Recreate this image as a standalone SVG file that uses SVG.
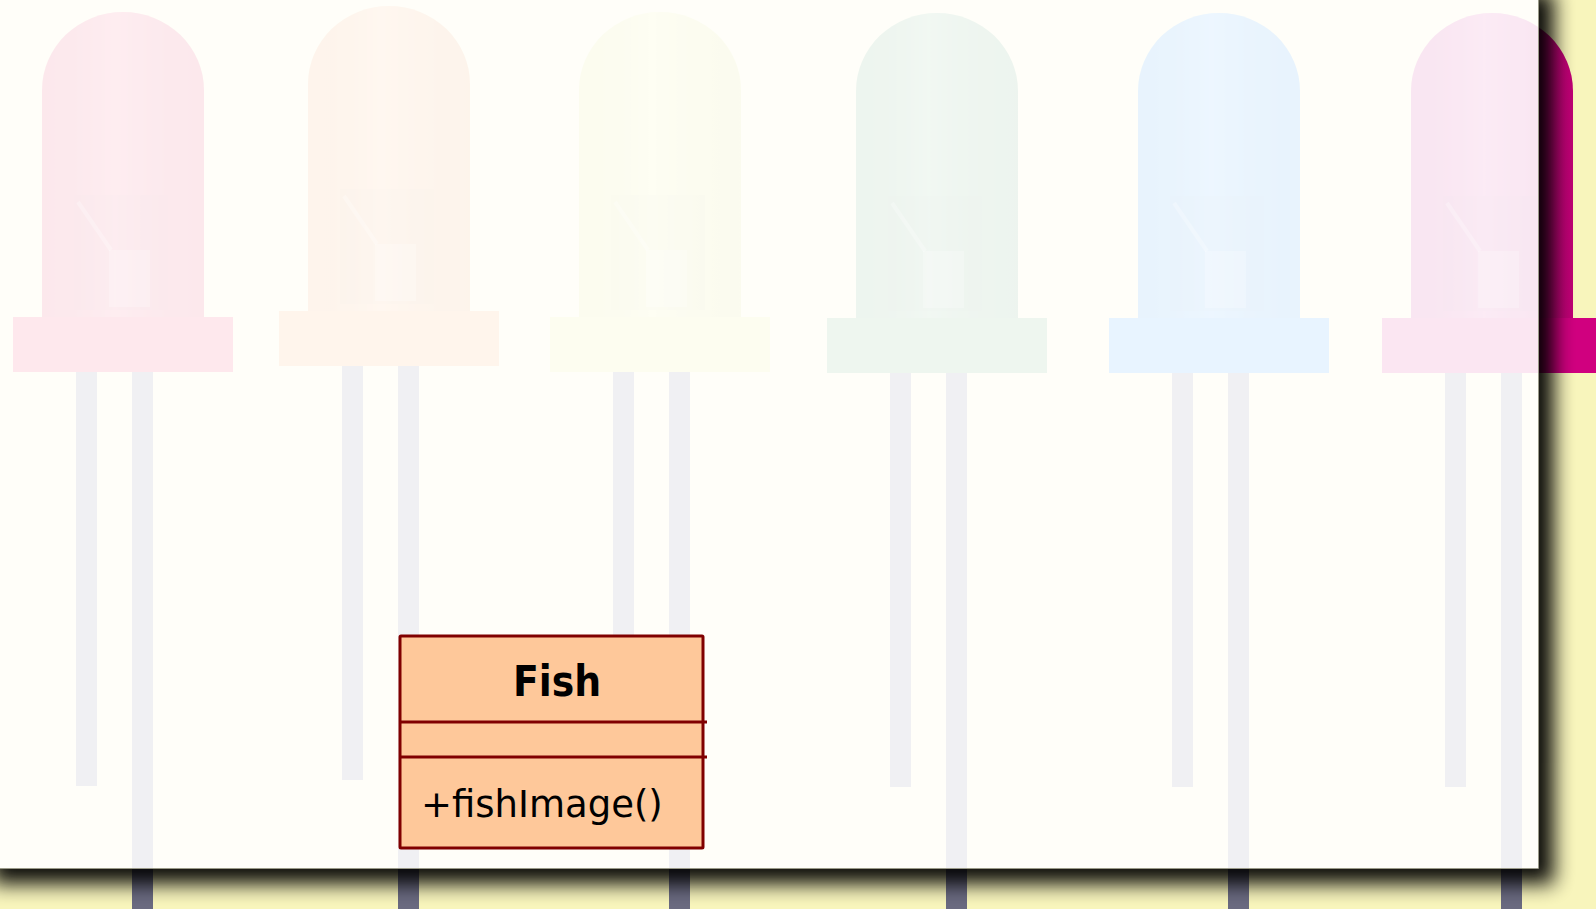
<svg xmlns="http://www.w3.org/2000/svg" xmlns:xlink="http://www.w3.org/1999/xlink" width="1596" height="909" viewBox="0 0 1596 909">
  <style>
    .leg { fill: #6a6a80; }
    .cls-box { fill: #fec89a; stroke: #800000; stroke-width: 3; }
    .cls-line { stroke: #800000; stroke-width: 3; }
    .cls-name { font-family: "DejaVu Sans Condensed", "DejaVu Sans", sans-serif; font-stretch: condensed; font-weight: bold; font-size: 42px; fill: #000; }
    .cls-op { font-family: "DejaVu Sans", sans-serif; font-size: 37px; fill: #000; }
  </style>
  <defs>
    <linearGradient id="domeShine" x1="0" y1="0" x2="1" y2="0">
      <stop offset="0" stop-color="#000" stop-opacity="0.06"/>
      <stop offset="0.45" stop-color="#fff" stop-opacity="0.2"/>
      <stop offset="1" stop-color="#000" stop-opacity="0.08"/>
    </linearGradient>
    <!-- one LED, origin at dome centre-top; body colour comes from the <use> fill -->
    <g id="led">
      <rect class="leg" x="-47" y="355" width="21" height="419"/>
      <rect class="leg" x="9" y="355" width="21" height="560"/>
      <path d="M-81,306 L-81,78 A81,78 0 0 1 81,78 L81,306 Z"/>
      <path d="M-81,306 L-81,78 A81,78 0 0 1 81,78 L81,306 Z" fill="url(#domeShine)"/>
      <rect x="-110" y="305" width="220" height="55"/>
      <rect x="-49" y="183" width="94" height="115" fill="#000" opacity="0.06"/>
      <rect x="-14" y="238" width="41" height="57" fill="#fff" opacity="0.22"/>
      <line x1="-45" y1="190" x2="-12" y2="238" stroke="#fff" stroke-opacity="0.25" stroke-width="4"/>
    </g>
    <filter id="soft" x="-10%" y="-10%" width="120%" height="120%">
      <feGaussianBlur stdDeviation="10"/>
    </filter>
    <clipPath id="outsidePanel">
      <path clip-rule="evenodd" d="M-100,-100 H1700 V1000 H-100 Z M-20,-20 H1539 V868 H-20 Z"/>
    </clipPath>
  </defs>

  <!-- backdrop -->
  <rect x="0" y="0" width="1596" height="909" fill="#f8f5bc"/>

  <!-- row of LEDs -->
  <g id="leds">
    <use xlink:href="#led" transform="translate(123,12)" fill="#f01c48"/>
    <use xlink:href="#led" transform="translate(389,6)" fill="#ff9a40"/>
    <use xlink:href="#led" transform="translate(660,12)" fill="#ebeb64"/>
    <use xlink:href="#led" transform="translate(937,13)" fill="#50a060"/>
    <use xlink:href="#led" transform="translate(1219,13)" fill="#1991fa"/>
    <use xlink:href="#led" transform="translate(1492,13)" fill="#d0007f"/>
  </g>

  <!-- drop shadow of the sheet -->
  <g clip-path="url(#outsidePanel)">
    <rect x="-8" y="-8" width="1562" height="892" fill="#000" opacity="0.95" filter="url(#soft)"/>
  </g>

  <!-- translucent sheet -->
  <rect id="sheet" x="-20" y="-20" width="1559" height="888" fill="#ffffff" opacity="0.9"/>
  <path d="M-20,868.5 H1538.5 V-20" fill="none" stroke="#9a9a88" stroke-width="1"/>

  <g id="connectors"/>

  <!-- class Fish -->
  <g id="fish">
    <rect class="cls-box" x="400" y="636" width="303" height="212" rx="1"/>
    <line class="cls-line" x1="400" y1="722" x2="707" y2="722"/>
    <line class="cls-line" x1="400" y1="757" x2="707" y2="757"/>
    <text class="cls-name" x="557" y="696" text-anchor="middle">Fish</text>
    <text class="cls-op" x="421" y="817">+fishImage()</text>
  </g>
</svg>
